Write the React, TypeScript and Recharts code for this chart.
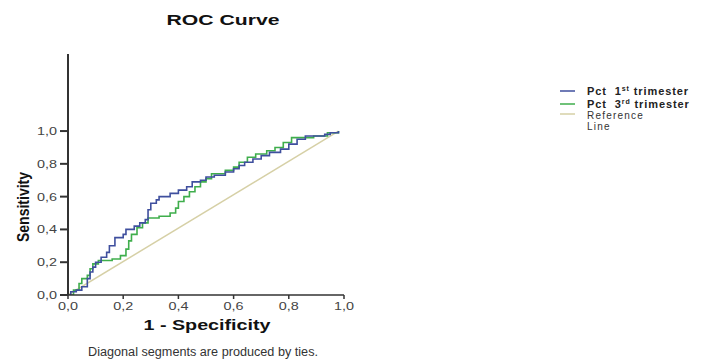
import { LineChart, Line, XAxis, YAxis, Legend, Label } from "recharts";

// ROC points: [1 - specificity, sensitivity]
const firstTrimester: [number, number][] = [
  [0, 0], [0.01, 0.02], [0.03, 0.03], [0.05, 0.05], [0.07, 0.1], [0.08, 0.14],
  [0.09, 0.17], [0.1, 0.2], [0.12, 0.23], [0.14, 0.26], [0.15, 0.3], [0.17, 0.35],
  [0.2, 0.37], [0.21, 0.4], [0.24, 0.42], [0.26, 0.44], [0.28, 0.46], [0.29, 0.52],
  [0.3, 0.56], [0.32, 0.58], [0.33, 0.6], [0.37, 0.62], [0.4, 0.64], [0.43, 0.66],
  [0.45, 0.69], [0.48, 0.7], [0.5, 0.72], [0.53, 0.73], [0.57, 0.75], [0.6, 0.77],
  [0.62, 0.79], [0.64, 0.81], [0.67, 0.83], [0.7, 0.85], [0.73, 0.87], [0.77, 0.89],
  [0.8, 0.92], [0.83, 0.95], [0.86, 0.97], [0.93, 0.98], [0.95, 0.99], [0.98, 1.0],
];

const thirdTrimester: [number, number][] = [
  [0, 0], [0.02, 0.03], [0.04, 0.07], [0.05, 0.1], [0.07, 0.12], [0.08, 0.16],
  [0.09, 0.19], [0.11, 0.21], [0.16, 0.22], [0.19, 0.24], [0.21, 0.28], [0.22, 0.33],
  [0.23, 0.37], [0.25, 0.41], [0.27, 0.44], [0.29, 0.47], [0.33, 0.48], [0.37, 0.5],
  [0.39, 0.53], [0.4, 0.57], [0.42, 0.6], [0.44, 0.63], [0.46, 0.66], [0.48, 0.69],
  [0.5, 0.71], [0.52, 0.74], [0.57, 0.76], [0.6, 0.78], [0.62, 0.81], [0.65, 0.84],
  [0.68, 0.86], [0.72, 0.88], [0.75, 0.9], [0.78, 0.93], [0.81, 0.96], [0.89, 0.97],
  [0.94, 0.99], [0.98, 1.0],
];

const referenceLine: [number, number][] = [
  [0, 0],
  [0.98, 1.0],
];

const axisTicks = [0, 0.2, 0.4, 0.6, 0.8, 1.0];

const toRows = (pts: [number, number][]) => pts.map(([x, y]) => ({ x, y }));

const BLUE = "#3f4f9e";
const GREEN = "#3fae4c";
const BEIGE = "#d6d0a6";
const FONT = "'Liberation Sans', Arial, sans-serif";
const LEGEND_W = 154;

const fmt = (v: number) => v.toFixed(1).replace(".", ",");

function YTick({ x, y, payload }: any) {
  return (
    <text x={x - 1} y={y + 4} textAnchor="end" fontSize={11} fontFamily={FONT} fill="#444"
      textLength={20} lengthAdjust="spacingAndGlyphs">
      {fmt(payload.value)}
    </text>
  );
}

function XTick({ x, y, payload }: any) {
  return (
    <text x={x} y={y + 9} textAnchor="middle" fontSize={11} fontFamily={FONT} fill="#444"
      textLength={20} lengthAdjust="spacingAndGlyphs">
      {fmt(payload.value)}
    </text>
  );
}

function LegendBox() {
  return (
    <svg width={LEGEND_W} height={62} style={{ display: "block" }}>
      <line x1={5} y1={10} x2={20} y2={10} stroke={BLUE} strokeWidth={1.5} />
      <text x={32} y={14} fontSize={11} fontWeight="bold" fontFamily={FONT} fill="#222" letterSpacing={0.9}>
        Pct{"\u00a0\u00a0"}1<tspan fontSize={7} dy={-4}>st</tspan>
        <tspan dy={4}> trimester</tspan>
      </text>
      <line x1={5} y1={23} x2={20} y2={23} stroke={GREEN} strokeWidth={1.5} />
      <text x={32} y={27} fontSize={11} fontWeight="bold" fontFamily={FONT} fill="#222" letterSpacing={0.9}>
        Pct{"\u00a0\u00a0"}3<tspan fontSize={7} dy={-4}>rd</tspan>
        <tspan dy={4}> trimester</tspan>
      </text>
      <line x1={5} y1={33} x2={20} y2={33} stroke={BEIGE} strokeWidth={1.5} />
      <text x={32} y={38} fontSize={10} fontFamily={FONT} fill="#333" letterSpacing={1.2}>Reference</text>
      <text x={32} y={49} fontSize={10} fontFamily={FONT} fill="#333" letterSpacing={1.2}>Line</text>
    </svg>
  );
}

export default function App() {
  return (
    <div style={{ position: "absolute", left: 0, top: 0, width: 709, height: 363, background: "#fff" }}>
      {/* legend sits at the right; recharts adds its width to the right offset */}
      <LineChart width={709} height={363} margin={{ top: 54, right: 365 - LEGEND_W, left: 0, bottom: 0 }}>
        <XAxis
          type="number"
          dataKey="x"
          domain={[0, 1]}
          allowDataOverflow
          ticks={axisTicks}
          height={68}
          tick={<XTick />}
          tickSize={4}
          stroke="#333"
          strokeWidth={1.5}
        >
          <Label
            content={() => (
              <text x={207} y={330} textAnchor="middle" fontSize={14} fontWeight="bold" fontFamily={FONT}
                fill="#111" textLength={127} lengthAdjust="spacingAndGlyphs">
                1 - Specificity
              </text>
            )}
          />
        </XAxis>
        <YAxis
          type="number"
          dataKey="y"
          domain={[0, 1.47]}
          allowDataOverflow
          ticks={axisTicks}
          width={68}
          tick={<YTick />}
          tickSize={8}
          stroke="#333"
          strokeWidth={2}
        >
          <Label
            content={() => (
              <text x={0} y={0} transform="translate(29,207) rotate(-90)" textAnchor="middle" fontSize={16}
                fontWeight="bold" fontFamily={FONT} fill="#111" textLength={70} lengthAdjust="spacingAndGlyphs">
                Sensitivity
              </text>
            )}
          />
        </YAxis>
        <Legend
          layout="vertical"
          verticalAlign="middle"
          align="right"
          width={LEGEND_W}
          wrapperStyle={{ position: "absolute", left: 555, top: 81, width: LEGEND_W }}
          content={() => <LegendBox />}
        />
        <Line data={toRows(referenceLine)} dataKey="y" type="linear" stroke={BEIGE} strokeWidth={1.5}
          dot={false} isAnimationActive={false} name="Reference Line" />
        <Line data={toRows(thirdTrimester)} dataKey="y" type="stepAfter" stroke={GREEN} strokeWidth={1.6}
          dot={false} isAnimationActive={false} name="Pct 3rd trimester" />
        <Line data={toRows(firstTrimester)} dataKey="y" type="stepAfter" stroke={BLUE} strokeWidth={1.6}
          dot={false} isAnimationActive={false} name="Pct 1st trimester" />
        <text x={223} y={25} textAnchor="middle" fontSize={15} fontWeight="bold" fontFamily={FONT} fill="#111"
          textLength={113} lengthAdjust="spacingAndGlyphs">
          ROC Curve
        </text>
        <text x={88} y={356} fontSize={12} fontFamily={FONT} fill="#333" textLength={230}
          lengthAdjust="spacingAndGlyphs">
          Diagonal segments are produced by ties.
        </text>
      </LineChart>
    </div>
  );
}
